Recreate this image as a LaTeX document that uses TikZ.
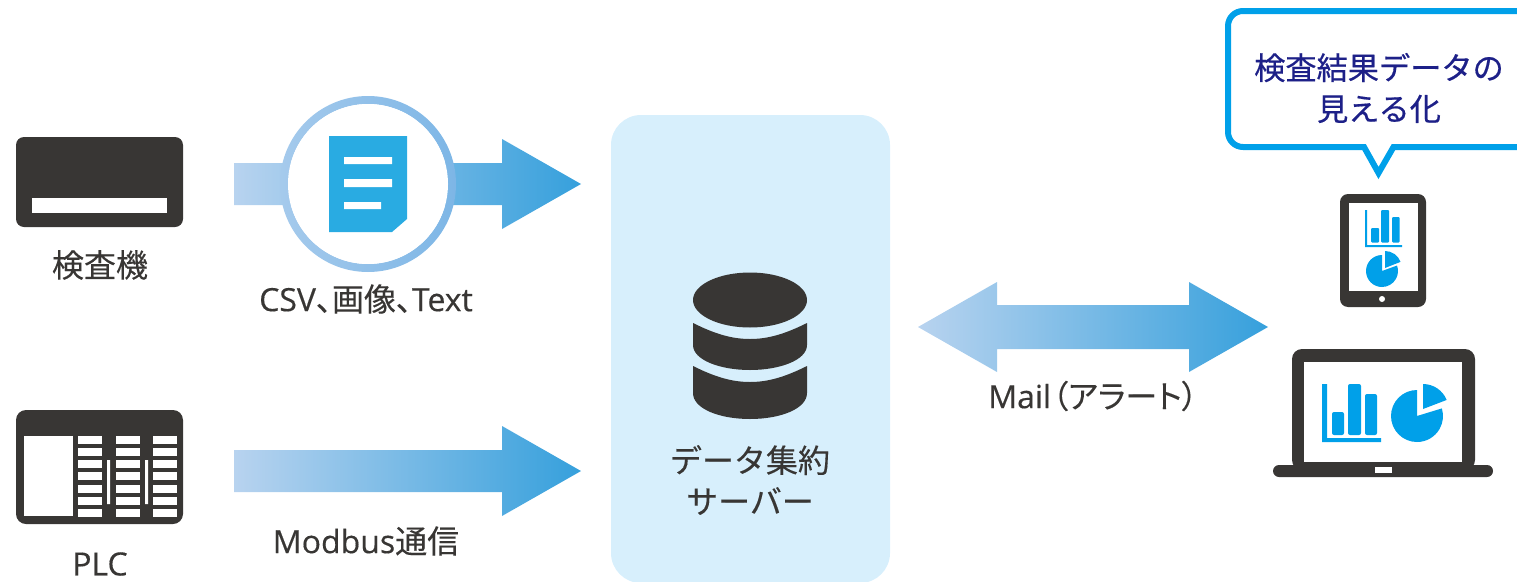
\documentclass[tikz,border=0pt]{standalone}
\usepackage{fontspec}
\newfontfamily\jpf[FakeBold=0.25]{Noto Sans CJK JP}
\newfontfamily\jpp[FakeBold=0.25,RawFeature=+palt]{Noto Sans CJK JP}
\newfontfamily\jpb[FakeBold=0.5]{Noto Sans CJK JP}
\newfontfamily\laf[FakeBold=0.4]{Open Sans}
\definecolor{ink}{HTML}{383634}
\definecolor{cy}{HTML}{00A0E9}
\definecolor{doc}{HTML}{29ABE2}
\definecolor{panelc}{HTML}{D7EFFC}
\definecolor{navyc}{HTML}{1D2088}
\definecolor{gl}{HTML}{B8D3EF}
\definecolor{gr}{HTML}{36A0DC}
\definecolor{ringl}{HTML}{A5CAEC}
\definecolor{ringr}{HTML}{7DB6E6}
\tikzset{
  dark/.style={fill=ink,draw=none},
  hole/.style={fill=white,draw=none},
  blue/.style={fill=cy,draw=none},
  grad/.style={left color=gl,right color=gr,draw=none},
  lab/.style={text=ink,font=\fontsize{32}{41}\selectfont\jpf,align=center,inner sep=0pt},
  bub/.style={text=navyc,font=\fontsize{31.2}{41}\selectfont\jpb,align=center,inner sep=0pt}
}
\begin{document}
\begin{tikzpicture}[x=1pt,y=-1pt]
\useasboundingbox (0,0) rectangle (1517,581);
\clip (0,0) rectangle (1517,581);
% panel
\fill[panelc,rounded corners=30pt] (611,115) rectangle (890,583);
% arrows
\shade[grad] (234,163) -- (502,163) -- (502,139) -- (581,184) -- (502,229) -- (502,205) -- (234,205) -- cycle;
\shade[grad] (234,450) -- (502,450) -- (502,426) -- (581,471) -- (502,516) -- (502,492) -- (234,492) -- cycle;
\shade[grad] (918,327) -- (997,282) -- (997,305) -- (1189,305) -- (1189,282) -- (1268,327) -- (1189,372) -- (1189,349) -- (997,349) -- (997,372) -- cycle;
% lens
\shade[left color=ringl,right color=ringr,even odd rule] (368,184) circle[radius=88pt] (368,184) circle[radius=80pt];
\fill[white] (368,184) circle[radius=80pt];
% doc
\fill[doc] (329,136) -- (407,136) -- (407,219) -- (392,232) -- (329,232) -- cycle;
\fill[white] (344,157) rectangle (392,164) (344,179) rectangle (392,187) (344,202) rectangle (381,209);
% card
\fill[dark,rounded corners=8pt] (16,137) rectangle (183,227);
\fill[hole] (32,198) rectangle (167,213);
% PLC
\fill[dark,rounded corners=10pt] (16,410) rectangle (183,524);
\fill[hole] (24,436) rectangle (73,516);
\foreach \xx in {78,116,153}{
  \foreach \yy in {436,448,460,472,485,497,509}{
    \fill[hole] (\xx,\yy) rectangle (\xx+23.5,\yy+7.6);
  }
}
\fill[hole] (107,460) rectangle (110,504) (145,460) rectangle (148,504);
% database
\fill[dark] (750,300) ellipse[x radius=57pt,y radius=27.5pt];
\fill[dark] (693,323) .. controls (715,334) and (732,339) .. (750,339) .. controls (768,339) and (785,334) .. (807,323) -- (807,345) .. controls (807,360) and (780,370) .. (750,370) .. controls (720,370) and (693,360) .. (693,345) -- cycle;
\fill[dark] (693,366) .. controls (715,377) and (732,382) .. (750,382) .. controls (768,382) and (785,377) .. (807,366) -- (807,393) .. controls (807,409) and (780,419) .. (750,419) .. controls (720,419) and (693,409) .. (693,393) -- cycle;
% bubble
\draw[cy,line width=6pt,fill=white,miter limit=10,rounded corners=15pt] (1560,11) -- (1228,11) -- (1228,147) -- (1300,147) [sharp corners] -- (1364,147) -- (1378.5,173) -- (1393.5,147) -- (1560,147);
% tablet
\fill[dark,rounded corners=8pt] (1340,194) rectangle (1426,307);
\fill[hole] (1349,203) rectangle (1418,291);
\fill[hole] (1382,299) circle[radius=3pt];
\fill[blue] (1365,210) rectangle (1367,247) (1365,245) rectangle (1402,247);
\fill[blue,rounded corners=1pt] (1371,228) rectangle (1379,242.5) (1381,210) rectangle (1389,242.5) (1392,217) rectangle (1399.5,242.5);
\fill[blue] (1382,271) -- (1382,255) arc[start angle=90,end angle=380,radius=16pt] -- cycle;
\fill[blue] (1385,268) -- (1385,251) arc[start angle=90,end angle=20,radius=16.5pt] -- cycle;
% laptop
\fill[dark,rounded corners=10pt] (1292,349) rectangle (1475,470);
\fill[dark,rounded corners=6pt] (1273,465) -- (1493,465) -- (1493,477) -- (1273,477) -- cycle;
\fill[hole] (1304,362) rectangle (1462,462);
\fill[hole] (1375,467) rectangle (1392,473);
\fill[blue] (1322,384) rectangle (1327,442) (1322,438) rectangle (1381,442);
\fill[blue,rounded corners=2pt] (1332,412) rectangle (1344,435) (1348,384) rectangle (1361,435) (1365,394) rectangle (1377,435);
\fill[blue] (1417,416) -- (1417,390) arc[start angle=90,end angle=377,radius=26pt] -- cycle;
\fill[blue] (1423,409) -- (1423,384) arc[start angle=90,end angle=22,radius=25.5pt] -- cycle;
% text
\node[lab] (kensa) at (100,265) {検査機};
\node[lab] (plc) at (100,564) {\laf PLC};
\node[lab] (csv) at (366,299) {\laf CSV\jpp 、画像、\laf Text};
\node[lab] (modbus) at (366,541) {\laf Modbus\jpf 通信};
\node[lab] (mail) at (1093,396) {\laf Mail\jpp\kern1pt（アラート）};
\node[lab] (server) at (750,480) {データ集約\\サーバー};
\node[bub] (vis) at (1379,88) {検査結果データの\\見える化};
\end{tikzpicture}
\end{document}
